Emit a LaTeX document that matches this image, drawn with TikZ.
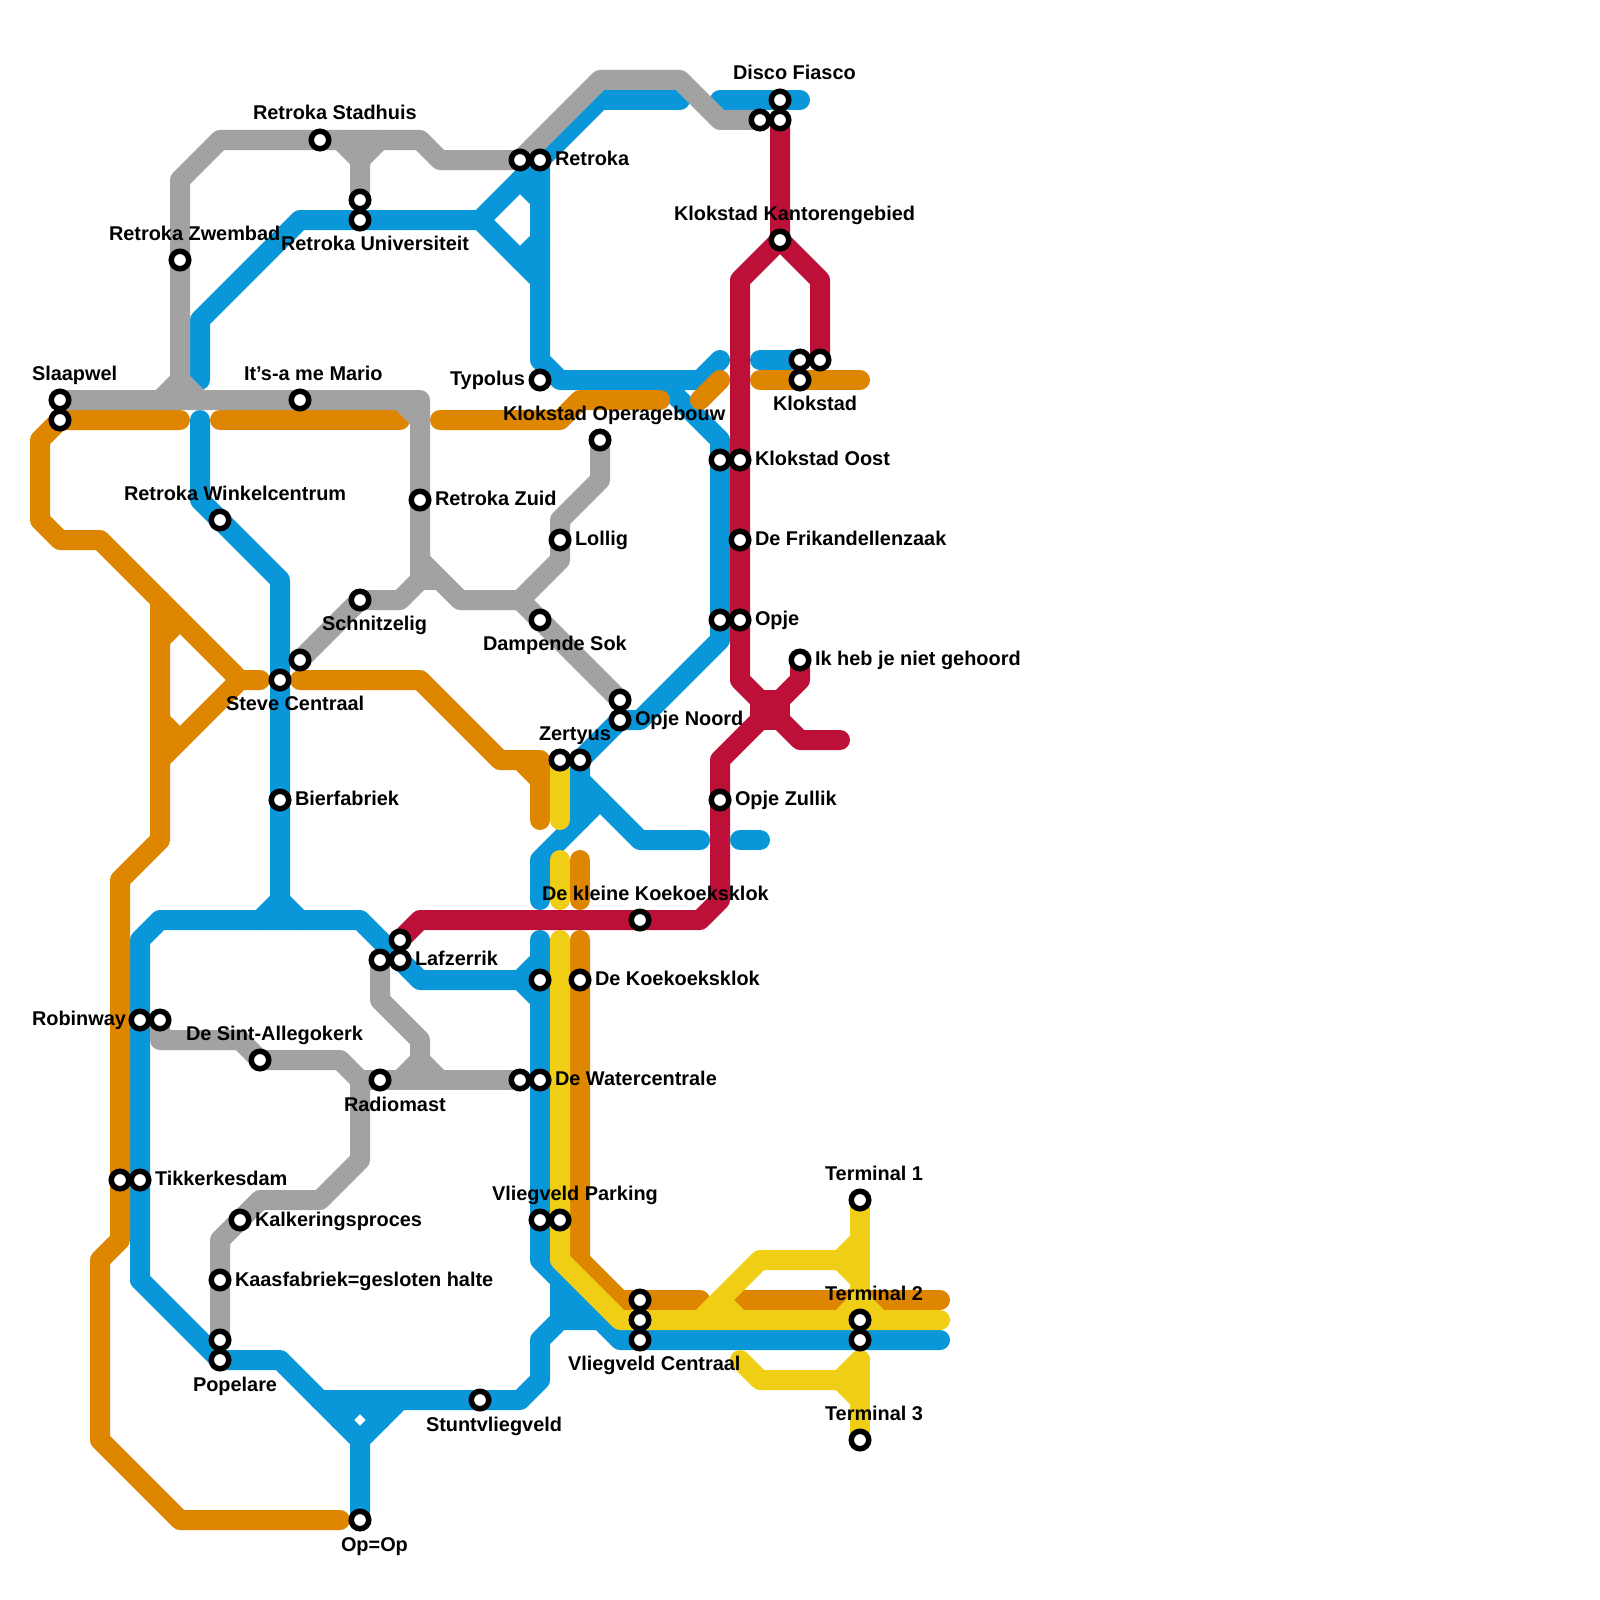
\documentclass[tikz,border=0pt]{standalone}
\usepackage{fontspec}
\setmainfont{Liberation Sans}
\definecolor{mblue}{HTML}{0A97D9}
\definecolor{morange}{HTML}{DF8600}
\definecolor{mgrey}{HTML}{A2A2A2}
\definecolor{myellow}{HTML}{F0CE15}
\definecolor{mred}{HTML}{BD1038}
\tikzset{
  metro/.style={line width=20pt,line cap=round,line join=round},
  bl/.style={metro,draw=mblue},
  or/.style={metro,draw=morange},
  gr/.style={metro,draw=mgrey},
  ye/.style={metro,draw=myellow},
  re/.style={metro,draw=mred},
  stn/.style={circle,draw=black,fill=white,line width=5.5pt,minimum size=17.5pt,inner sep=0pt,outer sep=0pt},
  lbl/.style={anchor=base west,inner sep=0pt,outer sep=0pt,font=\fontsize{19.9pt}{22pt}\selectfont\bfseries,text=black}
}
\newcommand{\ST}[3]{\node[stn] (#1) at (#2,#3) {};}
\newcommand{\LB}[4]{\node[lbl] (#1) at ({#2-1},{#3+1}) {#4};}
\begin{document}
\begin{tikzpicture}[x=1pt,y=-1pt]
\useasboundingbox (0,0) rectangle (1600,1600);
\fill[white] (0,0) rectangle (1600,1600);
% blue
\draw[bl] (200,380)--(200,320)--(300,220)--(480,220)--(520,180)--(540,160)--(600,100)--(680,100);
\draw[bl] (520,180)--(540,200);
\draw[bl] (480,220)--(540,280);
\draw[bl] (520,260)--(540,240);
\draw[bl] (540,160)--(540,360)--(560,380)--(700,380)--(720,360);
\draw[bl] (660,380)--(720,440)--(720,640)--(640,720)--(620,720)--(580,760)--(580,820)--(540,860)--(540,900);
\draw[bl] (580,780)--(640,840)--(700,840);
\draw[bl] (600,800)--(580,820);
\draw[bl] (740,840)--(760,840);
\draw[bl] (720,100)--(800,100);
\draw[bl] (760,360)--(800,360);
\draw[bl] (200,420)--(200,500)--(280,580)--(280,900);
\draw[bl] (260,920)--(280,900)--(300,920);
\draw[bl] (140,1280)--(140,940)--(160,920)--(360,920)--(420,980)--(520,980);
\draw[bl] (540,960)--(520,980)--(540,1000);
\draw[bl] (140,1280)--(220,1360)--(280,1360)--(360,1440)--(360,1520);
\draw[bl] (360,1440)--(400,1400);
\draw[bl] (320,1400)--(520,1400)--(540,1380)--(540,1340)--(560,1320)--(600,1320);
\draw[bl] (340,1420)--(360,1400)--(380,1420);
\draw[bl] (540,940)--(540,1260)--(620,1340)--(940,1340);
\draw[bl] (560,1280)--(560,1320);
\fill[mblue] (560,1280)--(600,1320)--(560,1320)--cycle;
% orange
\draw[or] (180,420)--(60,420)--(40,440)--(40,520)--(60,540)--(100,540)--(240,680)--(260,680);
\draw[or] (240,680)--(160,760);
\draw[or] (160,640)--(180,620);
\draw[or] (160,720)--(180,740);
\draw[or] (160,600)--(160,840)--(120,880)--(120,1240)--(100,1260)--(100,1440)--(180,1520)--(340,1520);
\draw[or] (220,420)--(400,420);
\draw[or] (440,420)--(560,420)--(580,400)--(660,400);
\draw[or] (700,400)--(720,380);
\draw[or] (760,380)--(860,380);
\draw[or] (300,680)--(420,680)--(500,760)--(540,760)--(540,820);
\draw[or] (520,760)--(540,780);
\draw[or] (580,860)--(580,900);
\draw[or] (580,940)--(580,1260)--(620,1300)--(700,1300);
\draw[or] (740,1300)--(940,1300);
% grey
\draw[gr] (60,400)--(420,400)--(420,580)--(400,600)--(360,600)--(300,660);
\draw[gr] (400,400)--(420,420);
\draw[gr] (420,560)--(460,600)--(520,600)--(560,560)--(560,520)--(600,480)--(600,440);
\draw[gr] (420,580)--(436,580);
\draw[gr] (520,600)--(620,700);
\draw[gr] (160,400)--(180,380)--(200,400);
\draw[gr] (180,400)--(180,180)--(220,140)--(420,140)--(440,160)--(520,160)--(600,80)--(680,80)--(720,120)--(760,120);
\draw[gr] (360,200)--(360,160)--(340,140);
\draw[gr] (360,160)--(380,140);
\draw[gr] (380,960)--(380,1000)--(420,1040)--(420,1060)--(400,1080);
\draw[gr] (420,1060)--(440,1080);
\draw[gr] (360,1080)--(520,1080);
\draw[gr] (160,1020)--(160,1040)--(240,1040)--(260,1060)--(340,1060)--(360,1080)--(360,1160)--(320,1200)--(260,1200)--(220,1240)--(220,1340);
% yellow
\draw[ye] (560,760)--(560,820);
\draw[ye] (560,860)--(560,900);
\draw[ye] (560,940)--(560,1260)--(620,1320)--(940,1320);
\draw[ye] (700,1320)--(760,1260)--(840,1260)--(860,1240);
\draw[ye] (720,1300)--(740,1320);
\draw[ye] (840,1260)--(860,1280);
\draw[ye] (860,1200)--(860,1320);
\draw[ye] (840,1320)--(860,1300)--(880,1320);
\draw[ye] (740,1360)--(760,1380)--(840,1380)--(860,1360);
\draw[ye] (840,1380)--(860,1400);
\draw[ye] (860,1360)--(860,1440);
% red
\draw[re] (780,120)--(780,240)--(740,280)--(740,680)--(800,740)--(840,740);
\draw[re] (780,240)--(820,280)--(820,360);
\draw[re] (800,660)--(800,680)--(720,760)--(720,900)--(700,920)--(420,920)--(400,940);
\fill[mred] (750,690) rectangle (790,730);
% stations
\ST{s1}{320}{140}\ST{s2}{180}{260}\ST{s3}{360}{200}\ST{s4}{360}{220}\ST{s5}{520}{160}\ST{s6}{540}{160}
\ST{s7}{60}{400}\ST{s8}{60}{420}\ST{s9}{300}{400}\ST{s10}{540}{380}\ST{s11}{220}{520}\ST{s12}{420}{500}
\ST{s13}{600}{440}\ST{s14}{560}{540}\ST{s15}{780}{100}\ST{s16}{780}{120}\ST{s17}{760}{120}\ST{s18}{780}{240}
\ST{s19}{800}{360}\ST{s20}{820}{360}\ST{s21}{800}{380}\ST{s22}{720}{460}\ST{s23}{740}{460}\ST{s24}{740}{540}
\ST{s25}{720}{620}\ST{s26}{740}{620}\ST{s27}{800}{660}\ST{s28}{620}{700}\ST{s29}{620}{720}\ST{s30}{560}{760}
\ST{s31}{580}{760}\ST{s32}{720}{800}\ST{s33}{540}{620}\ST{s34}{640}{920}\ST{s35}{400}{940}\ST{s36}{400}{960}
\ST{s37}{380}{960}\ST{s38}{540}{980}\ST{s39}{580}{980}\ST{s40}{360}{600}\ST{s41}{300}{660}\ST{s42}{280}{680}
\ST{s43}{280}{800}\ST{s44}{140}{1020}\ST{s45}{160}{1020}\ST{s46}{260}{1060}\ST{s47}{380}{1080}\ST{s48}{520}{1080}
\ST{s49}{540}{1080}\ST{s50}{120}{1180}\ST{s51}{140}{1180}\ST{s52}{240}{1220}\ST{s53}{220}{1280}\ST{s54}{220}{1340}
\ST{s55}{220}{1360}\ST{s56}{480}{1400}\ST{s57}{360}{1520}\ST{s58}{540}{1220}\ST{s59}{560}{1220}\ST{s60}{640}{1300}
\ST{s61}{640}{1320}\ST{s62}{640}{1340}\ST{s63}{860}{1200}\ST{s64}{860}{1320}\ST{s65}{860}{1340}\ST{s66}{860}{1440}
% labels
\LB{l1}{254}{119}{Retroka Stadhuis}
\LB{l2}{110}{239}{Retroka Zwembad}
\LB{l3}{282}{249}{Retroka Universiteit}
\LB{l4}{33}{379}{Slaapwel}
\LB{l5}{245}{379}{It’s-a me Mario}
\LB{l6}{451}{384}{Typolus}
\LB{l7}{556}{164}{Retroka}
\LB{l8}{734}{79}{Disco Fiasco}
\LB{l9}{675}{219}{Klokstad Kantorengebied}
\LB{l10}{774}{409}{Klokstad}
\LB{l11}{504}{419}{Klokstad Operagebouw}
\LB{l12}{756}{464}{Klokstad Oost}
\LB{l13}{436}{504}{Retroka Zuid}
\LB{l14}{125}{499}{Retroka Winkelcentrum}
\LB{l15}{576}{544}{Lollig}
\LB{l16}{756}{544}{De Frikandellenzaak}
\LB{l17}{756}{624}{Opje}
\LB{l18}{484}{649}{Dampende Sok}
\LB{l19}{816}{664}{Ik heb je niet gehoord}
\LB{l20}{636}{724}{Opje Noord}
\LB{l21}{540}{739}{Zertyus}
\LB{l22}{736}{804}{Opje Zullik}
\LB{l23}{543}{899}{De kleine Koekoeksklok}
\LB{l24}{416}{964}{Lafzerrik}
\LB{l25}{596}{984}{De Koekoeksklok}
\LB{l26}{323}{629}{Schnitzelig}
\LB{l27}{227}{709}{Steve Centraal}
\LB{l28}{296}{804}{Bierfabriek}
\LB{l29}{33}{1024}{Robinway}
\LB{l30}{187}{1039}{De Sint-Allegokerk}
\LB{l31}{556}{1084}{De Watercentrale}
\LB{l32}{345}{1110}{Radiomast}
\LB{l33}{156}{1184}{Tikkerkesdam}
\LB{l34}{256}{1225}{Kalkeringsproces}
\LB{l35}{236}{1285}{Kaasfabriek=gesloten halte}
\LB{l36}{194}{1390}{Popelare}
\LB{l37}{427}{1430}{Stuntvliegveld}
\LB{l38}{342}{1550}{Op=Op}
\LB{l39}{493}{1199}{Vliegveld Parking}
\LB{l40}{826}{1179}{Terminal 1}
\LB{l41}{826}{1299}{Terminal 2}
\LB{l42}{826}{1419}{Terminal 3}
\LB{l43}{569}{1369}{Vliegveld Centraal}
\end{tikzpicture}
\end{document}
